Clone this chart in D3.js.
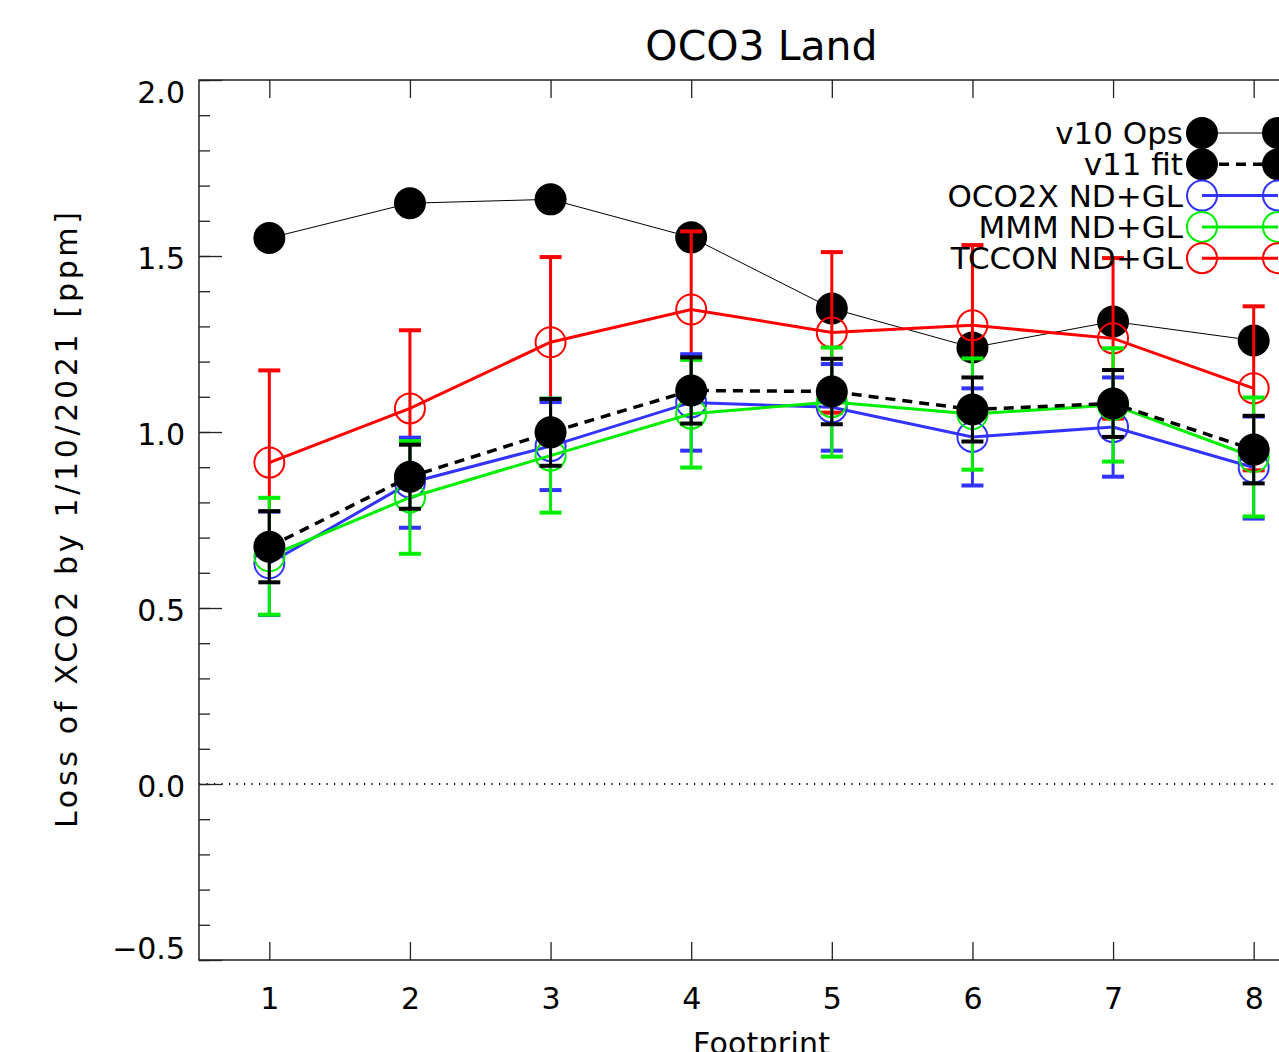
<!DOCTYPE html>
<html>
<head>
<meta charset="utf-8">
<script src="https://cdn.jsdelivr.net/npm/d3@7"></script>
<style>
  body { margin: 0; background: #fff; overflow: hidden; }
  text { font-family: 'DejaVu Sans', sans-serif; fill: #000; }
</style>
</head>
<body>
<svg id="chart"></svg>
<script>
// values
var footprints = [1, 2, 3, 4, 5, 6, 7, 8];
var v10Ops   = [1.551, 1.650, 1.661, 1.553, 1.351, 1.240, 1.314, 1.260];
var v11Fit   = [0.674, 0.873, 0.999, 1.118, 1.115, 1.064, 1.081, 0.950];
var v11Err   = [0.101, 0.091, 0.095, 0.094, 0.093, 0.091, 0.095, 0.096];
var oco2x    = [0.627, 0.856, 0.960, 1.084, 1.070, 0.986, 1.014, 0.899];
var oco2xErr = [0.147, 0.128, 0.125, 0.137, 0.123, 0.138, 0.141, 0.145];
var mmm      = [0.647, 0.814, 0.933, 1.052, 1.085, 1.051, 1.077, 0.929];
var mmmErr   = [0.166, 0.160, 0.162, 0.153, 0.155, 0.158, 0.161, 0.169];
var tccon    = [0.913, 1.067, 1.255, 1.348, 1.283, 1.303, 1.266, 1.124];
var tcconErr = [0.262, 0.222, 0.242, 0.222, 0.228, 0.228, 0.228, 0.233];

var yMajorTicks = [-0.5, 0.0, 0.5, 1.0, 1.5, 2.0];
var yMinorTicks = d3.range(-5, 21).map(function(d){ return d / 10; });

var legendNames = ['v10 Ops', 'v11 fit', 'OCO2X ND+GL', 'MMM ND+GL', 'TCCON ND+GL'];

var width = 1279, height = 1052;
var x = d3.scaleLinear().domain([0.5, 8.5]).range([199, 1324]);
var y = d3.scaleLinear().domain([-0.5, 2.0]).range([960, 80]);

var svg = d3.select('#chart').attr('width', width).attr('height', height);

// series drawn in this order (black v11 ends up on top)
var series = [
  { name: legendNames[0], vals: v10Ops, err: null,     color: '#000', lw: 1,   dash: null,   filled: true },
  { name: legendNames[4], vals: tccon,  err: tcconErr, color: '#ff0000', lw: 3, dash: null,  filled: false },
  { name: legendNames[2], vals: oco2x,  err: oco2xErr, color: '#3333ff', lw: 3, dash: null,  filled: false },
  { name: legendNames[3], vals: mmm,    err: mmmErr,   color: '#00ee00', lw: 3, dash: null,  filled: false },
  { name: legendNames[1], vals: v11Fit, err: v11Err,   color: '#000', lw: 3.5, dash: '10,7', filled: true }
];

// zero line
svg.append('line')
  .attr('x1', x(0.5)).attr('x2', x(8.5))
  .attr('y1', y(0)).attr('y2', y(0))
  .attr('stroke', '#000').attr('stroke-width', 2)
  .attr('stroke-dasharray', '1.2,6.3');

// axes (ticks pointing inward)
function noDomain(g){ g.select('.domain').remove(); g.selectAll('line').attr('stroke', '#222').attr('stroke-width', 1.3); }

svg.append('g').attr('transform', 'translate(' + x(0.5) + ',0)')
  .call(d3.axisLeft(y).tickValues(yMinorTicks).tickSize(-11).tickFormat(''))
  .call(noDomain);
svg.append('g').attr('transform', 'translate(' + x(0.5) + ',0)')
  .call(d3.axisLeft(y).tickValues(yMajorTicks).tickSize(-23).tickPadding(14).tickFormat(d3.format('.1f')))
  .call(noDomain)
  .selectAll('text').style('font-size', '30px').attr('fill', '#000')
  .attr('y', function(d){ return d === 2.0 ? 13 : d === -0.5 ? -11 : 3; })
  .text(function(d){ return d < 0 ? '\u2212' + d3.format('.1f')(-d) : d3.format('.1f')(d); });

svg.append('g').attr('transform', 'translate(0,' + y(-0.5) + ')')
  .call(d3.axisBottom(x).tickValues(footprints).tickSize(-18).tickPadding(28).tickFormat(d3.format('d')))
  .call(noDomain)
  .selectAll('text').style('font-size', '30px').attr('fill', '#000');
svg.append('g').attr('transform', 'translate(0,' + y(2.0) + ')')
  .call(d3.axisTop(x).tickValues(footprints).tickSize(-18).tickFormat(''))
  .call(noDomain);

// frame
svg.append('rect')
  .attr('x', x(0.5)).attr('y', y(2.0))
  .attr('width', x(8.5) - x(0.5)).attr('height', y(-0.5) - y(2.0))
  .attr('fill', 'none').attr('stroke', '#222').attr('stroke-width', 1.5);

var line = d3.line()
  .x(function(d){ return x(d[0]); })
  .y(function(d){ return y(d[1]); });

series.forEach(function(s){
  var pts = footprints.map(function(f, i){ return [f, s.vals[i], s.err ? s.err[i] : 0]; });
  var g = svg.append('g');
  g.append('path')
    .attr('d', line(pts))
    .attr('fill', 'none')
    .attr('stroke', s.color)
    .attr('stroke-width', s.lw)
    .attr('stroke-dasharray', s.dash);
  if (s.err) {
    var eb = g.selectAll('.eb').data(pts).enter().append('g');
    eb.append('line')
      .attr('x1', function(d){ return x(d[0]); }).attr('x2', function(d){ return x(d[0]); })
      .attr('y1', function(d){ return y(d[1] + d[2]); }).attr('y2', function(d){ return y(d[1] - d[2]); })
      .attr('stroke', s.color).attr('stroke-width', 3);
    [1, -1].forEach(function(sign){
      eb.append('line')
        .attr('x1', function(d){ return x(d[0]) - 11; }).attr('x2', function(d){ return x(d[0]) + 11; })
        .attr('y1', function(d){ return y(d[1] + sign * d[2]); }).attr('y2', function(d){ return y(d[1] + sign * d[2]); })
        .attr('stroke', s.color).attr('stroke-width', 4);
    });
  }
  g.selectAll('circle').data(pts).enter().append('circle')
    .attr('cx', function(d){ return x(d[0]); })
    .attr('cy', function(d){ return y(d[1]); })
    .attr('r', s.filled ? 16 : 15)
    .attr('fill', s.filled ? s.color : 'none')
    .attr('stroke', s.filled ? 'none' : s.color)
    .attr('stroke-width', 2);
});

// legend
var legendOrder = series.slice();
legendOrder.sort(function(a, b){ return legendNames.indexOf(a.name) - legendNames.indexOf(b.name); });
var lg = svg.selectAll('.legend').data(legendOrder).enter().append('g')
  .attr('transform', function(d, i){ return 'translate(0,' + (133 + i * 31.3) + ')'; });
lg.append('text')
  .attr('x', 1183).attr('y', 11)
  .attr('text-anchor', 'end')
  .style('font-size', '31px')
  .text(function(d){ return d.name; });
lg.append('line')
  .attr('x1', 1202).attr('x2', 1278).attr('y1', 0).attr('y2', 0)
  .attr('stroke', function(d){ return d.color; })
  .attr('stroke-width', function(d){ return d.lw; })
  .attr('stroke-dasharray', function(d){ return d.dash; });
[1202, 1278].forEach(function(cx){
  lg.append('circle')
    .attr('cx', cx).attr('cy', 0)
    .attr('r', function(d){ return d.filled ? 16 : 15; })
    .attr('fill', function(d){ return d.filled ? d.color : 'none'; })
    .attr('stroke', function(d){ return d.filled ? 'none' : d.color; })
    .attr('stroke-width', 2);
});

// titles
svg.append('text')
  .attr('x', (x(0.5) + x(8.5)) / 2).attr('y', 60)
  .attr('text-anchor', 'middle')
  .style('font-size', '41px')
  .text('OCO3 Land');
svg.append('text')
  .attr('x', (x(0.5) + x(8.5)) / 2).attr('y', 1054)
  .attr('text-anchor', 'middle')
  .attr('textLength', 137).attr('lengthAdjust', 'spacing')
  .style('font-size', '30px')
  .text('Footprint');
svg.append('text')
  .attr('transform', 'translate(77,520) rotate(-90)')
  .attr('text-anchor', 'middle')
  .attr('textLength', 616).attr('lengthAdjust', 'spacing')
  .style('font-size', '30px')
  .text('Loss of XCO2 by 1/10/2021 [ppm]');
</script>
</body>
</html>
